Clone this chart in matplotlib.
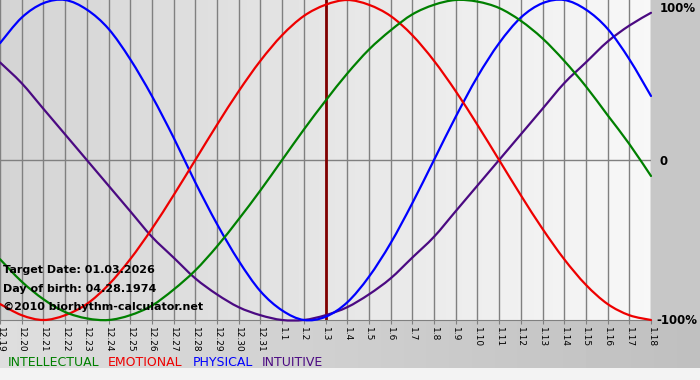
import matplotlib
matplotlib.use('Agg')
import matplotlib.pyplot as plt
from matplotlib.path import Path
from matplotlib.patches import PathPatch
import numpy as np

# biorhythm values per day (-1 = -100%, 1 = 100%)
days = ['12.19', '12.20', '12.21', '12.22', '12.23', '12.24', '12.25', '12.26',
        '12.27', '12.28', '12.29', '12.30', '12.31', '1.1', '1.2', '1.3', '1.4',
        '1.5', '1.6', '1.7', '1.8', '1.9', '1.10', '1.11', '1.12', '1.13', '1.14',
        '1.15', '1.16', '1.17', '1.18']
physical = [0.73, 0.89, 0.98, 1.00, 0.94, 0.82, 0.63, 0.40, 0.14, -0.14, -0.40,
            -0.63, -0.82, -0.94, -1.00, -0.98, -0.89, -0.73, -0.52, -0.27, 0.00,
            0.27, 0.52, 0.73, 0.89, 0.98, 1.00, 0.94, 0.82, 0.63, 0.40]
emotional = [-0.90, -0.97, -1.00, -0.97, -0.90, -0.78, -0.62, -0.43, -0.22, 0.00,
             0.22, 0.43, 0.62, 0.78, 0.90, 0.97, 1.00, 0.97, 0.90, 0.78, 0.62,
             0.43, 0.22, 0.00, -0.22, -0.43, -0.62, -0.78, -0.90, -0.97, -1.00]
intellectual = [-0.62, -0.76, -0.87, -0.95, -0.99, -1.00, -0.97, -0.91, -0.81, -0.69,
                -0.54, -0.37, -0.19, 0.00, 0.19, 0.37, 0.54, 0.69, 0.81, 0.91, 0.97,
                1.00, 0.99, 0.95, 0.87, 0.76, 0.62, 0.46, 0.28, 0.10, -0.10]
intuitive = [0.61, 0.48, 0.32, 0.16, 0.00, -0.16, -0.32, -0.48, -0.61, -0.74, -0.84,
             -0.92, -0.97, -1.00, -1.00, -0.97, -0.92, -0.84, -0.74, -0.61, -0.48,
             -0.32, -0.16, 0.00, 0.16, 0.32, 0.48, 0.61, 0.74, 0.84, 0.92]
target_day = '1.3'
info = ['Target Date: 01.03.2026', 'Day of birth: 04.28.1974', '\u00a92010 biorhythm-calculator.net']


def smooth_line(ax, xs, ys, color):
    # draw the daily points as a smooth bezier curve (catmull-rom style)
    xs = np.asarray(xs, float)
    ys = np.asarray(ys, float)
    pts = np.column_stack([xs, ys])
    verts = [pts[0]]
    codes = [Path.MOVETO]
    n = len(pts)
    for i in range(n - 1):
        p0 = pts[i - 1] if i > 0 else pts[i]
        p1 = pts[i]
        p2 = pts[i + 1]
        p3 = pts[i + 2] if i + 2 < n else pts[i + 1]
        verts += [p1 + (p2 - p0) / 6, p2 - (p3 - p1) / 6, p2]
        codes += [Path.CURVE4] * 3
    patch = PathPatch(Path(verts, codes), facecolor='none', edgecolor=color,
                      lw=1.6, clip_on=False, zorder=3, capstyle='round')
    ax.add_patch(patch)


W, H = 700, 380
fig = plt.figure(figsize=(7, 3.8), dpi=100)

# gray page background
bg = fig.add_axes([0, 0, 1, 1])
bg.axis('off')
img = np.full((H, W), 0.78)
img[320:368, :] = np.linspace(0.87, 0.75, W)
img[368:, :] = 0.95
bg.imshow(img, cmap='gray', vmin=0, vmax=1, aspect='auto', extent=(0, W, H, 0))
bg.set_xlim(0, W)
bg.set_ylim(H, 0)

ax = fig.add_axes([0, 60 / H, 651 / W, 320 / H])
x = np.arange(len(days))
grad = np.linspace(0.83, 0.97, 200).reshape(1, -1)
ax.imshow(grad, cmap='gray', vmin=0, vmax=1, aspect='auto',
          extent=(0, len(days) - 1, -1, 1), zorder=0)

for xi in x:
    ax.axvline(xi, color='#808080', lw=1, zorder=1)
ax.axhline(0, color='#808080', lw=1, zorder=1)
ax.axvline(days.index(target_day), color='#800000', lw=2, zorder=2)

smooth_line(ax, x, intuitive, '#4b0a82')
smooth_line(ax, x, physical, '#0000ff')
smooth_line(ax, x, emotional, '#ee0000')
smooth_line(ax, x, intellectual, '#008000')

ax.set_xlim(0, len(days) - 1)
ax.set_ylim(-1, 1)
ax.set_xticks(x)
ax.set_xticklabels(days, rotation=270, fontsize=6.5)
ax.tick_params(axis='x', length=3, pad=2, color='#808080')
ax.set_yticks([])
for s in ['top', 'left', 'right']:
    ax.spines[s].set_visible(False)
ax.spines['bottom'].set_color('#808080')

ax.text(30.4, 0.95, '100%', fontsize=8.5, fontweight='bold', va='center', clip_on=False)
ax.text(30.4, -0.01, '0', fontsize=8.5, fontweight='bold', va='center', clip_on=False)
ax.text(30.25, -1.0, '-100%', fontsize=8.5, fontweight='bold', va='center', clip_on=False)

for i, t in enumerate(info):
    ax.text(0.12, -0.69 - i * 0.115, t, fontsize=8, fontweight='bold', va='center', zorder=4)

legend = [('INTELLECTUAL', '#008000', 8), ('EMOTIONAL', '#ee0000', 108),
          ('PHYSICAL', '#0000ff', 193), ('INTUITIVE', '#4b0a82', 262)]
for name, c, px in legend:
    fig.text(px / W, 1 - 362 / H, name, color=c, fontsize=9, va='center')

fig.savefig('out.png', dpi=100)
